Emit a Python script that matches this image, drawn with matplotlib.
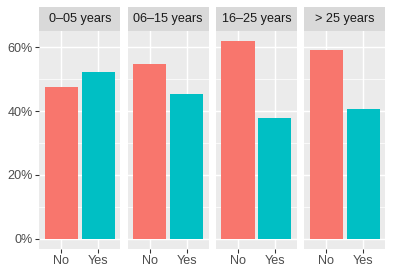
''' Faceted bar chart, ggplot look. '''

import matplotlib
matplotlib.use('Agg')
from matplotlib import pyplot as plt
from matplotlib.ticker import FixedLocator, FuncFormatter

facets = ['0\u201305 years', '06\u201315 years', '16\u201325 years', '> 25 years']
answers = ['No', 'Yes']
noShare = [47.7, 54.7, 62.0, 59.2]
yesShare = [52.3, 45.3, 38.0, 40.8]
yTicks = [0, 20, 40, 60]
barColors = ['#F8766D', '#00BFC4']

W, H = 393, 275
plt.rcParams['font.family'] = ['Liberation Sans', 'DejaVu Sans']
fig = plt.figure(figsize=(W / 96.0, H / 96.0), dpi=96)

# panel geometry in pixels
left, right = 39.3, 385.3
gap = 7.3
panelW = (right - left - 3 * gap) / 4
panelTop, panelBot = 31.0, 248.7
stripTop = 7.0
fs = 9.5

ymax = max(noShare + yesShare)
pad = ymax * 0.05

for i, name in enumerate(facets):
	x0 = left + i * (panelW + gap)
	ax = fig.add_axes([x0 / W, 1 - panelBot / H, panelW / W, (panelBot - panelTop) / H])
	ax.set_facecolor('#EBEBEB')
	for s in ax.spines.values():
		s.set_visible(False)
	ax.bar([1, 2], [noShare[i], yesShare[i]], width=0.9, color=barColors, zorder=3)
	ax.set_xlim(0.4, 2.6)
	ax.set_ylim(-pad, ymax + pad)
	ax.yaxis.set_major_locator(FixedLocator(yTicks))
	ax.yaxis.set_minor_locator(FixedLocator([10, 30, 50]))
	ax.set_xticks([1, 2])
	ax.set_xticklabels(answers)
	ax.grid(True, which='major', color='white', linewidth=1.1, zorder=0)
	ax.grid(True, which='minor', axis='y', color='white', linewidth=0.55, zorder=0)
	ax.tick_params(which='minor', length=0)
	ax.tick_params(which='major', length=2.75, width=0.8, color='#333333',
		labelcolor='#4D4D4D', labelsize=fs, pad=2.2)
	if i == 0:
		ax.yaxis.set_major_formatter(FuncFormatter(lambda v, p: '%d%%' % v))
	else:
		ax.tick_params(axis='y', left=False, labelleft=False)
	ax.set_axisbelow(True)
	# strip
	sx = fig.add_axes([x0 / W, 1 - panelTop / H, panelW / W, (panelTop - stripTop) / H])
	sx.set_facecolor('#D9D9D9')
	sx.set_xticks([])
	sx.set_yticks([])
	for s in sx.spines.values():
		s.set_visible(False)
	sx.text(0.5, 0.5, name, ha='center', va='center', fontsize=fs,
		color='#1A1A1A', transform=sx.transAxes)

fig.savefig('out.png', dpi=96)
